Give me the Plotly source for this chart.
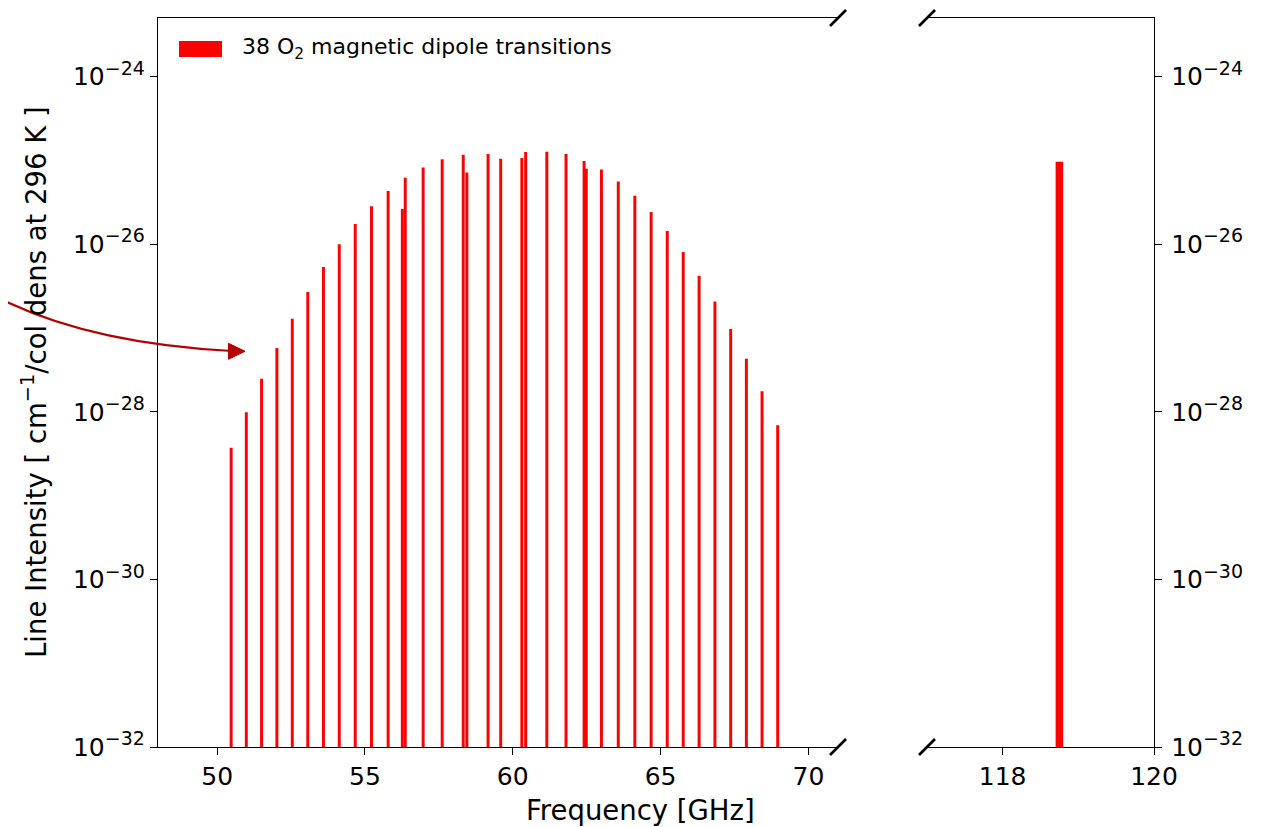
import plotly.graph_objects as go

# ---------------- data ----------------
freq_60 = [50.474, 50.987, 51.503, 52.021, 52.542, 53.066, 53.596, 54.130, 54.671, 55.221,
           55.784, 56.264, 56.363, 56.968, 57.612, 58.324, 58.447, 59.164, 59.591, 60.306,
           60.435, 61.151, 61.800, 62.412, 62.486, 62.998, 63.568, 64.128, 64.679, 65.224,
           65.764, 66.302, 66.837, 67.370, 67.901, 68.431, 68.960]
intens_60 = [3.72e-29, 9.89e-29, 2.49e-28, 5.79e-28, 1.29e-27, 2.69e-27, 5.35e-27, 1.00e-26,
             1.74e-26, 2.85e-26, 4.31e-26, 2.63e-26, 6.21e-26, 8.22e-26, 1.03e-25, 1.17e-25,
             7.18e-26, 1.19e-25, 1.05e-25, 1.07e-25, 1.26e-25, 1.27e-25, 1.19e-25, 9.82e-26,
             7.94e-26, 7.80e-26, 5.61e-26, 3.78e-26, 2.42e-26, 1.44e-26, 8.07e-27, 4.22e-27,
             2.08e-27, 9.75e-28, 4.29e-28, 1.76e-28, 6.92e-29]
freq_118 = [118.750]
intens_118 = [9.62e-26]

x_ticks_left = [50, 55, 60, 65, 70]
x_ticks_right = [118, 120]
y_tick_exps = [-32, -30, -28, -26, -24]
legend_label = "38 O<sub>2</sub> magnetic dipole transitions"
x_title = "Frequency [GHz]"
y_title = "Line Intensity [ cm<sup>−1</sup>/col dens at 296 K ]"

# ---------------- layout geometry (screen pixels) ----------------
W, H = 1279, 827
OFF = 8  # page body margin
L, R, T, B = 158, 1154, 18, 747  # plot area on screen
BREAK_L, BREAK_R = 838, 927


def px(x):
    return (x - L) / (R - L)


def py(y):
    return (B - y) / (B - T)


FONT = "DejaVu Sans, Verdana, sans-serif"
RED = "#ff0000"
ARROW = "#b50000"
TICK_SIZE = 25
TITLE_SIZE = 27.5
LEG_SIZE = 22
SUP_SIZE = 19

y_vals = [10.0 ** e for e in y_tick_exps]
y_text = ["10<sup><span style='font-size:%dpx'>−%d</span></sup>" % (SUP_SIZE, -e)
          for e in y_tick_exps]

fig = go.Figure()
fig.add_trace(go.Bar(x=freq_60, y=intens_60, base=1e-32, width=0.1,
                     marker=dict(color=RED, line=dict(width=0)),
                     name="38 O2 magnetic dipole transitions", showlegend=False,
                     xaxis="x", yaxis="y"))
fig.add_trace(go.Bar(x=freq_118, y=intens_118, base=1e-32, width=0.1,
                     marker=dict(color=RED, line=dict(width=0)),
                     showlegend=False, xaxis="x2", yaxis="y2"))

axis_common = dict(showgrid=False, zeroline=False, showline=True, linecolor="black",
                   linewidth=1.3, ticks="outside", ticklen=7, tickwidth=1.3,
                   tickcolor="black", tickfont=dict(family=FONT, size=TICK_SIZE, color="black"))

yrange = [-32, -23.3]

fig.update_layout(
    width=W - OFF, height=H - OFF,
    margin=dict(l=L - OFF, r=W - R, t=T - OFF, b=H - B, autoexpand=False),
    paper_bgcolor="white", plot_bgcolor="white",
    showlegend=False,
    xaxis=dict(domain=[0, px(BREAK_L)], range=[48, 71], tickvals=x_ticks_left,
               mirror=True, anchor="y", **axis_common),
    yaxis=dict(type="log", range=yrange, tickvals=y_vals, ticktext=y_text,
               anchor="x", side="left", **axis_common),
    xaxis2=dict(domain=[px(BREAK_R), 1], range=[117, 120], tickvals=x_ticks_right,
                mirror=True, anchor="y2", **axis_common),
    yaxis2=dict(type="log", range=yrange, tickvals=y_vals, ticktext=y_text,
                anchor="x2", side="right", matches="y", ticklabelstandoff=4,
                **axis_common),
)

shapes = []
# break marks
for bx in (BREAK_L, BREAK_R):
    for by in (T, B):
        shapes.append(dict(type="line", xref="paper", yref="paper",
                           x0=px(bx - 8), y0=py(by + 8), x1=px(bx + 8), y1=py(by - 8),
                           line=dict(color="black", width=2.6)))

# legend handle
shapes.append(dict(type="rect", xref="paper", yref="paper",
                   x0=px(179), x1=px(222), y0=py(57), y1=py(41),
                   fillcolor=RED, line=dict(width=0)))

# curved arrow (shaft + head)
p0 = (-20, 288)
c = (75, 343)
p1 = (232, 351)
path = "M %f,%f Q %f,%f %f,%f" % (px(p0[0]), py(p0[1]), px(c[0]), py(c[1]), px(p1[0]), py(p1[1]))
shapes.append(dict(type="path", xref="paper", yref="paper", path=path,
                   line=dict(color=ARROW, width=2.2)))
head = "M %f,%f L %f,%f L %f,%f Z" % (px(245), py(351.3), px(228.5), py(343.3), px(228.5), py(359.3))
shapes.append(dict(type="path", xref="paper", yref="paper", path=head,
                   fillcolor=ARROW, line=dict(color=ARROW, width=1)))

fig.update_layout(shapes=shapes)

annotations = [
    dict(text=legend_label, xref="paper", yref="paper", x=px(240), y=py(49),
         xanchor="left", yanchor="middle", showarrow=False,
         font=dict(family=FONT, size=LEG_SIZE, color="black")),
    dict(text=x_title, xref="paper", yref="paper", x=px(640), y=py(810),
         xanchor="center", yanchor="middle", showarrow=False,
         font=dict(family=FONT, size=TITLE_SIZE, color="black")),
    dict(text=y_title, xref="paper", yref="paper", x=px(34), y=py(382),
         xanchor="center", yanchor="middle", showarrow=False, textangle=-90,
         font=dict(family=FONT, size=TITLE_SIZE, color="black")),
]
fig.update_layout(annotations=annotations)

fig.write_html("out.html")
